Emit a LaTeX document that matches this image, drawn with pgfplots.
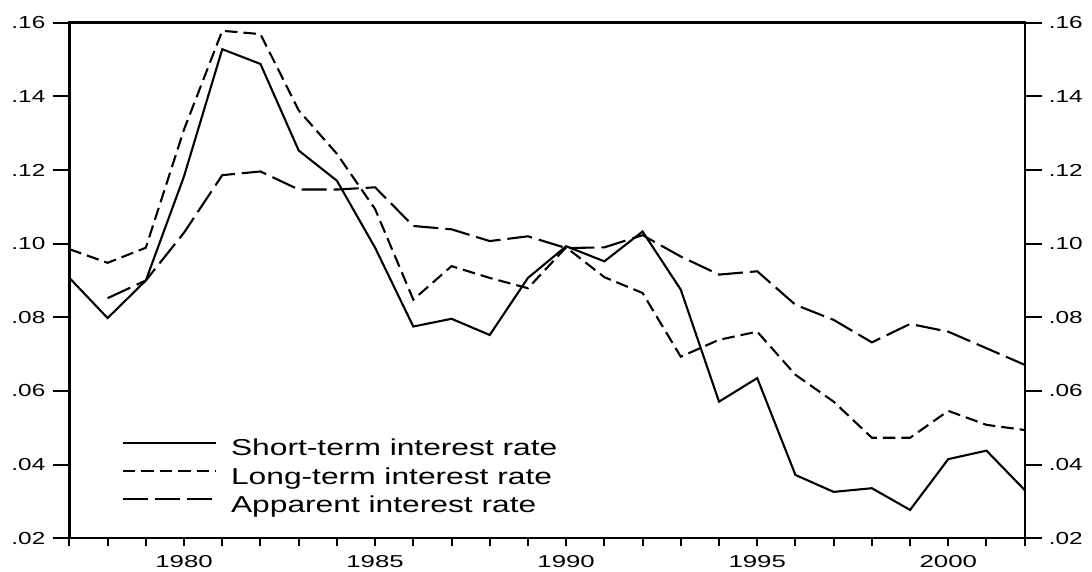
\documentclass[border=0pt]{standalone}
\usepackage{fontspec}
\setmainfont{Liberation Sans}
\usepackage{graphicx}
\usepackage{pgfplots}
\pgfplotsset{compat=1.18}
\usepackage{pgfplotstable}

\pgfplotstableread{
year short long app
1977 0.0907 0.0985 nan
1978 0.0798 0.0948 0.0852
1979 0.0900 0.0989 0.0900
1980 0.1183 0.1310 0.1030
1981 0.1528 0.1578 0.1186
1982 0.1488 0.1569 0.1196
1983 0.1253 0.1362 0.1147
1984 0.1171 0.1244 0.1147
1985 0.0989 0.1094 0.1153
1986 0.0775 0.0848 0.1048
1987 0.0796 0.0939 0.1039
1988 0.0752 0.0907 0.1007
1989 0.0907 0.0879 0.1020
1990 0.0993 0.0990 0.0988
1991 0.0952 0.0909 0.0990
1992 0.1033 0.0866 0.1023
1993 0.0875 0.0693 0.0965
1994 0.0571 0.0739 0.0916
1995 0.0635 0.0761 0.0925
1996 0.0372 0.0644 0.0834
1997 0.0326 0.0571 0.0793
1998 0.0336 0.0473 0.0732
1999 0.0277 0.0473 0.0782
2000 0.0415 0.0546 0.0761
2001 0.0438 0.0508 0.0716
2002 0.0331 0.0494 0.0671
}\ratedata

\begin{document}
\begin{tikzpicture}
\begin{axis}[
  at={(0pt,0pt)}, anchor=south west,
  scale only axis, width=477.65pt, height=257.8pt,
  xmin=1977, xmax=2002, ymin=0.02, ymax=0.16,
  axis line style={line width=1.2pt},
  xtick={1980,1985,1990,1995,2000},
  minor xtick={1977,1978,...,2002},
  xtick pos=left,
  ytick=\empty,
  tick align=outside,
  major tick length=4pt, minor tick length=4pt,
  xtick style={line width=1pt, black},
  xticklabel style={font=\fontsize{8.6}{10}\selectfont, xscale=1.5, inner ysep=4.5pt},
  /pgf/number format/1000 sep={},
  /pgf/number format/assume math mode=true,
  legend style={draw=none, fill=none, at={(0.0547,0.1967)}, anchor=north west,
    inner sep=0pt, outer sep=0pt, column sep=7pt, row sep=0pt,
    nodes={inner sep=0pt, text height=9.5pt, text depth=4.6pt,
      font=\fontsize{11.5}{13}\selectfont}},
  legend cell align=left,
  legend image code/.code={\draw[#1, line width=1.05pt] (0pt,4.1pt) -- (46.65pt,4.1pt);},
]
\addplot[black, line width=1.05pt] table[x=year,y=short]{\ratedata};
\addlegendentry{\scalebox{1.38}[1]{Short-term interest rate}}
\addplot[black, line width=1.05pt, dash pattern=on 6.25pt off 3pt] table[x=year,y=long]{\ratedata};
\addlegendentry{\scalebox{1.38}[1]{Long-term interest rate}}
\addplot[black, line width=1.05pt, dash pattern=on 12.5pt off 3.5pt] table[x=year,y=app]{\ratedata};
\addlegendentry{\scalebox{1.38}[1]{Apparent interest rate}}
\end{axis}

\begin{axis}[
  at={(0pt,0pt)}, anchor=south west,
  scale only axis, width=477.65pt, height=257.8pt,
  xmin=1977, xmax=2002, ymin=0.02, ymax=0.16,
  hide x axis,
  axis y line*=left,
  axis line style={line width=1.2pt, -},
  ytick={0.02,0.04,0.06,0.08,0.10,0.12,0.14,0.16},
  tick align=outside,
  major tick length=8.4pt,
  ytick style={line width=1pt, black},
  yticklabel style={font=\fontsize{8.7}{10}\selectfont, xscale=1.4, inner xsep=2.4pt},
  /pgf/number format/.cd, fixed, fixed zerofill, precision=2, skip 0., assume math mode=true,
]
\end{axis}

\begin{axis}[
  at={(0pt,0pt)}, anchor=south west,
  scale only axis, width=477.65pt, height=257.8pt,
  xmin=1977, xmax=2002, ymin=0.02, ymax=0.16,
  hide x axis,
  axis y line*=right,
  axis line style={line width=1.2pt, -},
  ytick={0.02,0.04,0.06,0.08,0.10,0.12,0.14,0.16},
  tick align=outside,
  major tick length=8.4pt,
  ytick style={line width=1pt, black},
  yticklabel style={font=\fontsize{8.7}{10}\selectfont, xscale=1.4, inner xsep=2.4pt},
  /pgf/number format/.cd, fixed, fixed zerofill, precision=2, skip 0., assume math mode=true,
]
\end{axis}
\pgfresetboundingbox
\path (-34.7pt,-16.85pt) rectangle (511.3pt,269.15pt);
\end{tikzpicture}
\end{document}
